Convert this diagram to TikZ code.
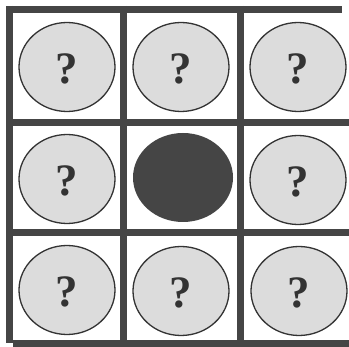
\documentclass[tikz,border=0pt]{standalone}
\usepackage{amsfonts, amssymb, amsmath}
\usepackage{fontspec}
\usepackage{tikz}
\newfontfamily\markfont{Liberation Serif}
\definecolor{gridgray}{HTML}{454545}
\definecolor{cellgray}{HTML}{DCDCDC}
\definecolor{markgray}{HTML}{333333}
\tikzset{
  gridline/.style={line width=7pt, gridgray},
  cellcircle/.style={draw=markgray, line width=1.3pt, fill=cellgray},
  qmark/.style={text=markgray, font=\markfont\fontsize{45}{45}\selectfont\bfseries}
}
\begin{document}
\begin{tikzpicture}[x=1pt, y=-1pt]
  \useasboundingbox (0,0) rectangle (349,347);
  \fill[white] (0,0) rectangle (349,347);
  % grid
  \draw[gridline] (9.5,6) -- (9.5,343);
  \draw[gridline] (6,10) -- (342,10);
  \draw[gridline] (123,6) -- (123,347);
  \draw[gridline] (240,6) -- (240,347);
  \draw[gridline] (6,122.5) -- (349,122.5);
  \draw[gridline] (6,232.5) -- (349,232.5);
  \draw[gridline] (13,343.5) -- (349,343.5);
  % cells
  \foreach \cx/\cy/\n in {67/67/a, 181/67/b, 298/67/c,
                          67/179/d, 298/180/f,
                          67/290/g, 181/291/h, 299/291/i} {
    \draw[cellcircle] (\cx,\cy) ellipse (48 and 44.5);
    \node[qmark] (q-\n) at (\cx,\cy+2) {?};
  }
  \fill[gridgray] (183,177.5) ellipse (50 and 44.5);
\end{tikzpicture}
\end{document}
